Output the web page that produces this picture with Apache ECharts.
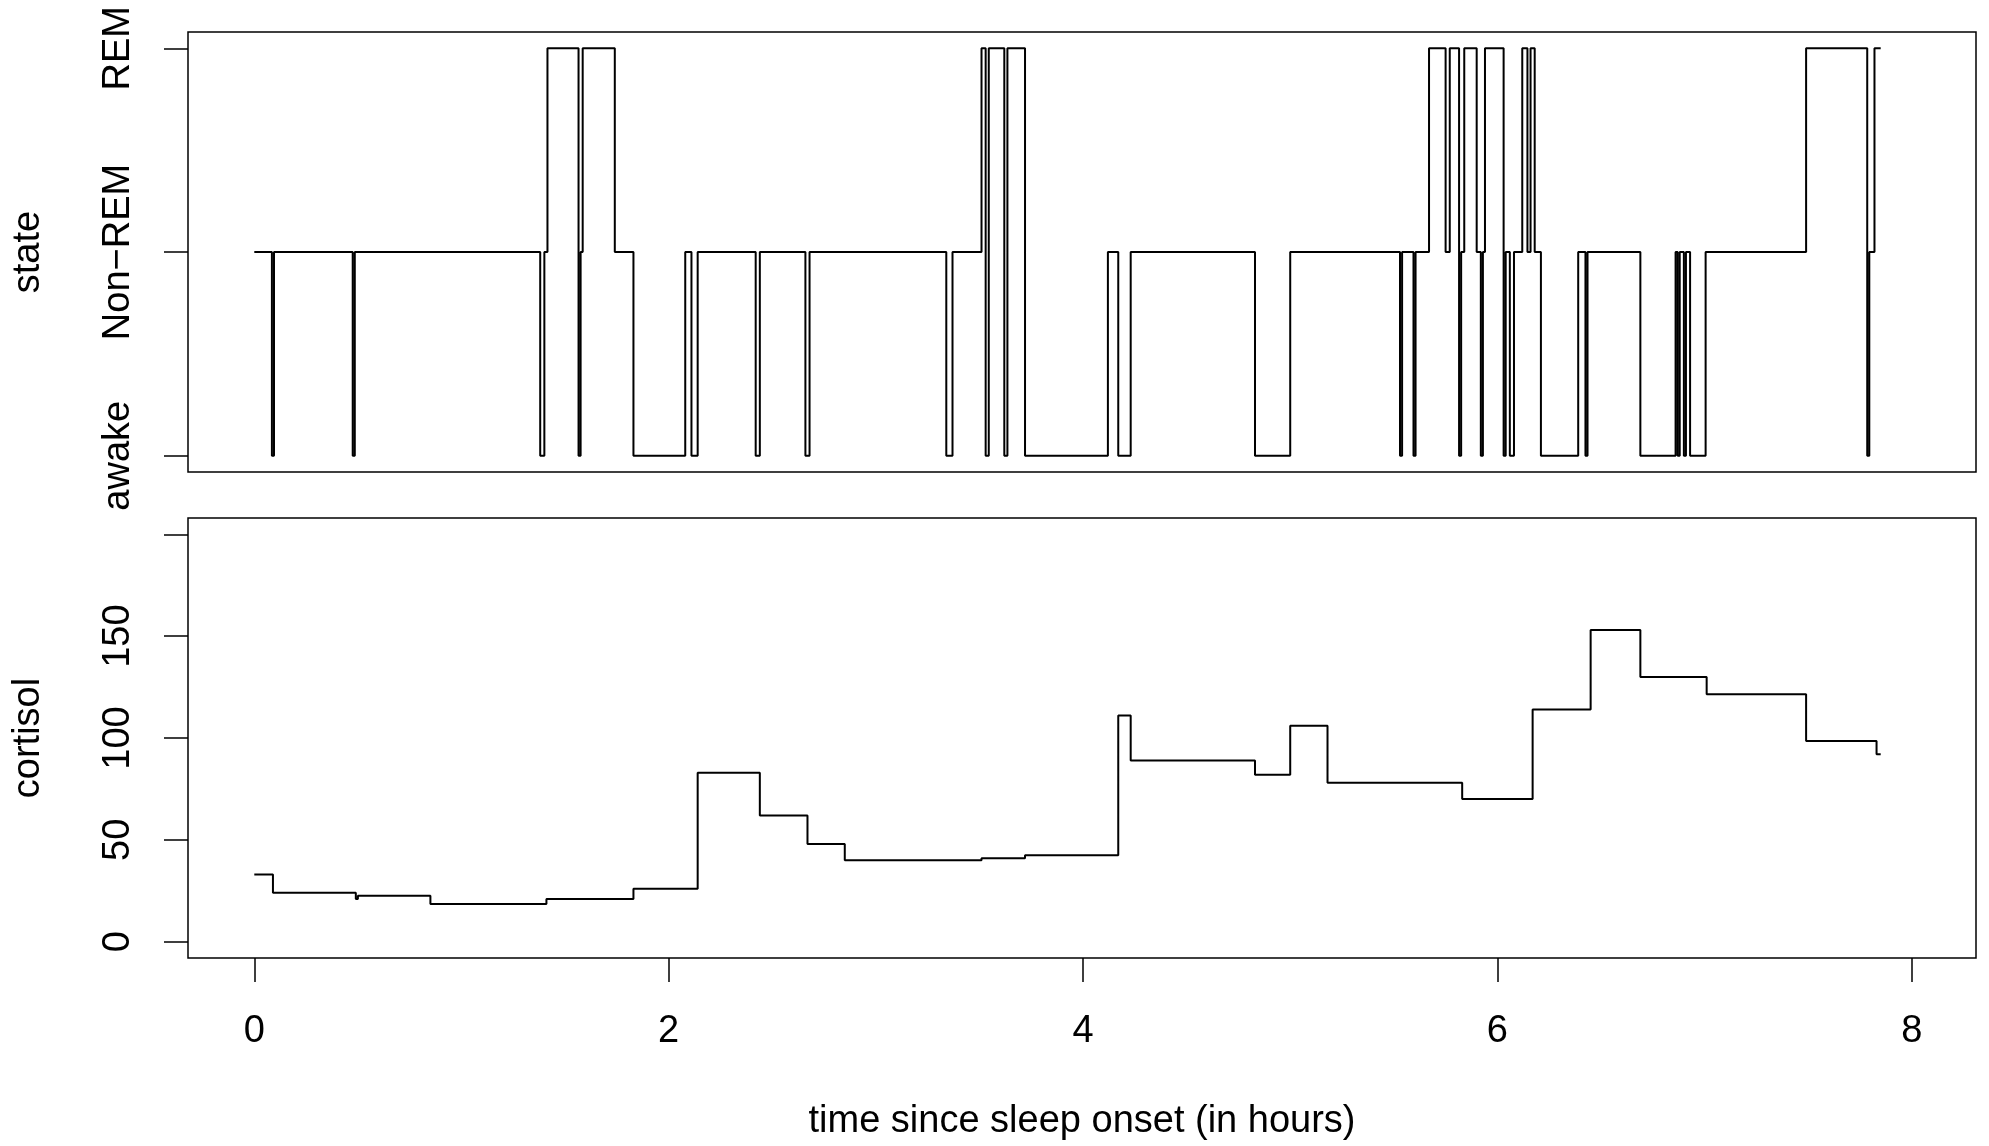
<!DOCTYPE html>
<html>
<head>
<meta charset="utf-8">
<script src="https://cdn.jsdelivr.net/npm/echarts@6/dist/echarts.min.js"></script>
<style>html,body{margin:0;background:#fff}#c{width:1989px;height:1146px}</style>
</head>
<body>
<div id="c"></div>
<script>
// sleep state: 0 awake, 1 Non-REM, 2 REM ; each value holds until next time
const stateTimes = [0, 0.085, 0.095, 0.475, 0.485, 1.38, 1.40, 1.415, 1.565, 1.575, 1.585, 1.74, 1.83, 2.08, 2.11, 2.14, 2.42, 2.44, 2.66, 2.68, 3.34, 3.37, 3.51, 3.53, 3.545, 3.62, 3.635, 3.72, 4.12, 4.17, 4.23, 4.83, 5.00, 5.53, 5.54, 5.595, 5.605, 5.67, 5.75, 5.77, 5.815, 5.825, 5.84, 5.90, 5.92, 5.93, 5.94, 6.03, 6.04, 6.06, 6.08, 6.12, 6.145, 6.16, 6.18, 6.21, 6.39, 6.425, 6.435, 6.69, 6.86, 6.87, 6.88, 6.90, 6.91, 6.93, 6.995, 7.005, 7.49, 7.785, 7.795, 7.82, 7.85];
const stateValues = [1, 0, 1, 0, 1, 0, 1, 2, 0, 1, 2, 1, 0, 1, 0, 1, 0, 1, 0, 1, 0, 1, 2, 0, 2, 0, 2, 0, 1, 0, 1, 0, 1, 0, 1, 0, 1, 2, 1, 2, 0, 1, 2, 1, 0, 1, 2, 0, 1, 0, 1, 2, 1, 2, 1, 0, 1, 0, 1, 0, 1, 0, 1, 0, 1, 0, 0, 1, 2, 0, 1, 2, 2];
const stateLabels = ['awake', 'Non\u2212REM', 'REM'];

const cortTimes = [0, 0.09, 0.49, 0.50, 0.85, 1.41, 1.83, 2.14, 2.44, 2.67, 2.85, 3.51, 3.72, 4.17, 4.23, 4.83, 5.00, 5.18, 5.83, 6.17, 6.45, 6.69, 7.01, 7.49, 7.83, 7.85];
const cortValues = [33, 24, 21, 22.5, 18.5, 21, 26, 83, 62, 48, 40, 41, 42.5, 111, 89, 82, 106, 78, 70, 114, 153, 130, 121.5, 98.5, 92, 92];

const xTicks = [0, 2, 4, 6, 8];
const stateTicks = [0, 1, 2];
const cortTicks = [0, 50, 100, 150, 200];
const cortLabels = [0, 50, 100, 150];

const font = 'Liberation Sans, Arial, sans-serif';
const fs = 38;
const pair = (ts, vs) => ts.map((t, i) => [t, vs[i]]);

const chart = echarts.init(document.getElementById('c'));
const tick = vals => ({ show: true, length: 24, customValues: vals, lineStyle: { color: '#000', width: 1.5 } });
const noLine = { show: false, onZero: false };
const nameStyle = { color: '#000', fontFamily: font, fontSize: fs };
const xBase = { type: 'value', min: -0.32, max: 8.31, splitLine: { show: false }, axisLine: noLine };
const gridBase = { left: 188, width: 1788, height: 440, show: true, borderColor: '#000', borderWidth: 1.5,
  outerBoundsMode: 'none', containLabel: false };
chart.setOption({
  animation: false,
  grid: [Object.assign({ top: 32 }, gridBase), Object.assign({ top: 518 }, gridBase)],
  xAxis: [
    Object.assign({ gridIndex: 0, axisTick: { show: false }, axisLabel: { show: false } }, xBase),
    Object.assign({
      gridIndex: 1, axisTick: tick(xTicks),
      axisLabel: { customValues: xTicks, color: '#000', fontFamily: font, fontSize: fs, margin: 55 },
      name: 'time since sleep onset (in hours)', nameLocation: 'middle', nameGap: 145,
      nameTextStyle: nameStyle
    }, xBase)
  ],
  yAxis: [
    {
      gridIndex: 0, type: 'value', min: -0.08, max: 2.08,
      splitLine: { show: false }, axisLine: noLine, axisTick: tick(stateTicks),
      axisLabel: { customValues: stateTicks, rotate: 90, color: '#000', fontFamily: font, fontSize: fs, margin: 50,
        formatter: v => stateLabels[Math.round(v)] },
      name: 'state', nameLocation: 'middle', nameGap: 140, nameRotate: 90, nameTextStyle: nameStyle
    },
    {
      gridIndex: 1, type: 'value', min: -8, max: 208,
      splitLine: { show: false }, axisLine: noLine, axisTick: tick(cortTicks),
      axisLabel: { customValues: cortLabels, rotate: 90, color: '#000', fontFamily: font, fontSize: fs, margin: 50 },
      name: 'cortisol', nameLocation: 'middle', nameGap: 140, nameRotate: 90, nameTextStyle: nameStyle
    }
  ],
  series: [
    { type: 'line', xAxisIndex: 0, yAxisIndex: 0, step: 'end', showSymbol: false,
      lineStyle: { color: '#000', width: 2 }, data: pair(stateTimes, stateValues) },
    { type: 'line', xAxisIndex: 1, yAxisIndex: 1, step: 'end', showSymbol: false,
      lineStyle: { color: '#000', width: 2 }, data: pair(cortTimes, cortValues) }
  ]
});
</script>
</body>
</html>
